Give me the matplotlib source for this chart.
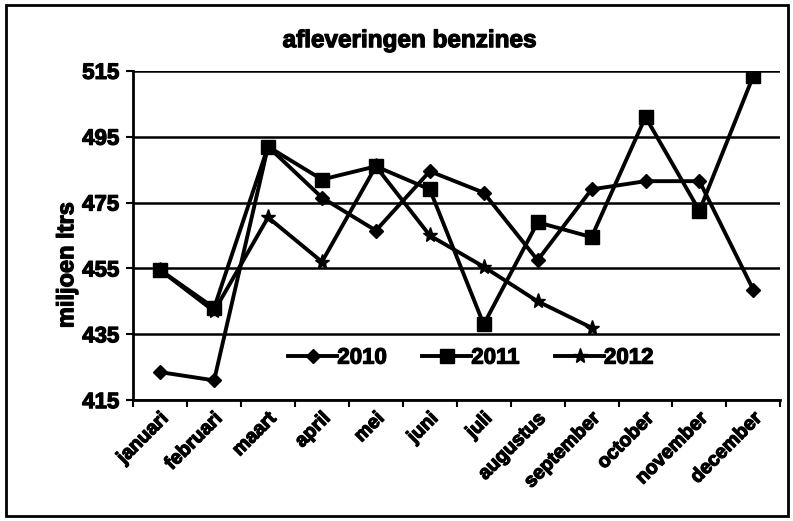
import matplotlib
matplotlib.use("Agg")
import matplotlib.pyplot as plt
import matplotlib.patheffects as pe
import numpy as np
from matplotlib.patches import Rectangle

months = ["januari", "februari", "maart", "april", "mei", "juni", "juli",
          "augustus", "september", "october", "november", "december"]
v2010 = [423.5, 421, 492, 476.5, 466.5, 484.5, 478, 457.5, 479, 481.5, 481.5, 448.5]
v2011 = [454.5, 443, 492, 482, 486, 479, 438, 469, 464.5, 501, 472.5, 513.5]
v2012 = [454.5, 442, 470.5, 457, 486, 465, 455.5, 445, 437]
yticks = [415, 435, 455, 475, 495, 515]

plt.rcParams['font.family'] = ['Liberation Sans', 'DejaVu Sans']
plt.rcParams['font.weight'] = 'bold'

heavy = [pe.withStroke(linewidth=0.9, foreground='black')]

fig = plt.figure(figsize=(7.93, 5.21), dpi=100)
ax = fig.add_axes([0.168, 0.232, 0.816, 0.632])

x = np.arange(len(months))
ax.plot(x, v2010, color='black', lw=2.8, marker='D', ms=7, label='2010')
ax.plot(x, v2011, color='black', lw=2.8, marker='s', ms=10, label='2011')
ax.plot(x[:len(v2012)], v2012, color='black', lw=2.8, marker='*', ms=11, label='2012')

ax.set_xlim(-0.5, len(months) - 0.5)
ax.set_ylim(415, 515)
ax.set_yticks(yticks)
ax.set_yticklabels([str(t) for t in yticks], fontsize=16, fontweight='bold')
ax.set_xticks(x)
ax.set_xticklabels(months, rotation=45, ha='right', rotation_mode='anchor',
                   fontsize=14, fontweight='bold')
ax.tick_params(axis='x', length=0, pad=7)
ax.set_xticks(np.arange(-0.5, len(months), 1), minor=True)
ax.tick_params(axis='x', which='minor', length=5, width=1.5, direction='out')
ax.tick_params(axis='y', length=5, width=1.5, direction='out', pad=5)
for lbl in ax.get_xticklabels() + ax.get_yticklabels():
    lbl.set_path_effects(heavy)

ax.yaxis.grid(True, color='black', lw=1.8)
ax.set_axisbelow(True)
for s in ['top', 'right']:
    ax.spines[s].set_visible(False)
for s in ['left', 'bottom']:
    ax.spines[s].set_linewidth(2)

yl = ax.set_ylabel('miljoen ltrs', fontsize=17, fontweight='bold')
ax.yaxis.set_label_coords(-0.085, 0.41)
yl.set_path_effects(heavy)
t = fig.text(0.517, 0.922, 'afleveringen benzines', ha='center', va='center',
             fontsize=17.5, fontweight='bold')
t.set_path_effects(heavy)

leg = ax.legend(loc='lower center', bbox_to_anchor=(0.522, 0.035), ncol=3, frameon=False,
                handlelength=2.2, columnspacing=1.6, handletextpad=0.0,
                prop={'weight': 'bold', 'size': 16})
for txt in leg.get_texts():
    txt.set_path_effects(heavy)

fig.patches.append(Rectangle((0.008, 0.01), 0.986, 0.98, transform=fig.transFigure,
                             fill=False, edgecolor='black', lw=2))

fig.savefig('out.png', dpi=100)
